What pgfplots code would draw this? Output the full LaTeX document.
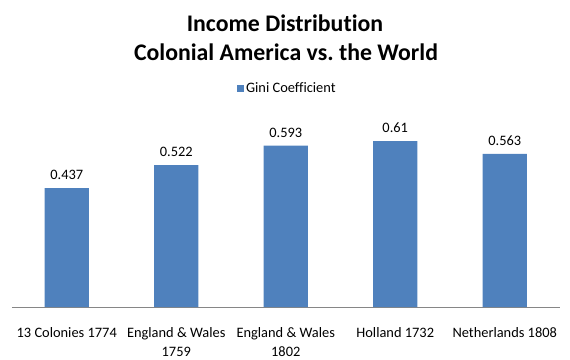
\documentclass[border=0pt]{standalone}
\usepackage{pgfplots}
\pgfplotsset{compat=1.18}
\usepackage{fontspec}
\setmainfont{Carlito}[RawFeature=-liga]
\frenchspacing
\definecolor{barblue}{HTML}{4F81BD}
\definecolor{axgray}{HTML}{868686}
\begin{document}
\begin{tikzpicture}[x=1pt,y=1pt]
\useasboundingbox (0,0) rectangle (570,359);
\node[font=\fontsize{23.8}{28}\selectfont\bfseries, anchor=base] at (285,327) {Income Distribution};
\node[font=\fontsize{23.8}{28}\selectfont\bfseries, anchor=base] at (286,298) {Colonial America vs.\ the World};
\begin{axis}[
  at={(12pt,52pt)}, anchor=south west,
  scale only axis,
  width=547.5pt, height=190.4pt,
  ymin=0, ymax=0.7,
  xmin=-0.5, xmax=4.5,
  axis x line*=bottom,
  axis y line=none,
  x axis line style={draw=axgray, line width=0.8pt, -},
  xtick={0,1,2,3,4},
  xtick style={draw=none},
  xticklabels={{13 Colonies 1774},{England \& Wales\\1759},{England \& Wales\\1802},{Holland 1732},{Netherlands 1808}},
  xticklabel style={align=center, font=\fontsize{14.4}{19}\selectfont, inner sep=0pt, yshift=-16pt},
  ybar, bar width=44pt,
  nodes near coords,
  nodes near coords style={font=\fontsize{14.4}{16}\selectfont, yshift=5pt},
  point meta=explicit symbolic,
  legend style={at={(0.503,1.147)}, anchor=center, draw=none, font=\fontsize{14.4}{16}\selectfont, inner sep=0pt},
  legend image code/.code={\fill[barblue] (0pt,-3.5pt) rectangle (7pt,3.5pt);},
]
\addplot[fill=barblue, draw=none] coordinates {
  (0,0.437) [0.437]
  (1,0.522) [0.522]
  (2,0.593) [0.593]
  (3,0.61) [0.61]
  (4,0.563) [0.563]
};
\addlegendentry{Gini Coefficient}
\end{axis}
\end{tikzpicture}
\end{document}
